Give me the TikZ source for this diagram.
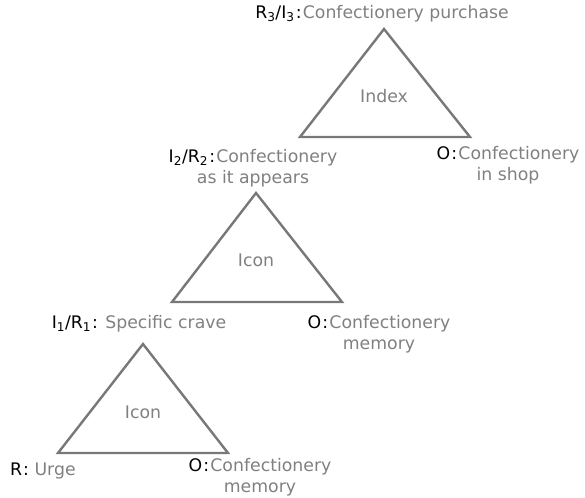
\documentclass[tikz,border=0pt]{standalone}
\usepackage{fontspec}
\setmainfont{DejaVu Sans}
\usepackage{xcolor}
\usetikzlibrary{calc}

\definecolor{labelgrey}{HTML}{808080}
\definecolor{linegrey}{HTML}{787878}

\newcommand{\sgn}[1]{\textcolor{black}{#1}}
\newcommand{\cln}{\kern1.2pt:\kern1.2pt}

\begin{document}
\begin{tikzpicture}[x=1pt, y=-1pt,
		triangle/.style = {draw = linegrey, line width = 2.4pt, line join = miter},
		sign label/.style = {text = labelgrey, font = \fontsize{17.3}{21.5}\selectfont, inner sep = 0pt, align = center}]
		\useasboundingbox (0,0) rectangle (585,497);
		
		% index triangle
		\coordinate (index top) at (384,29);
		\coordinate (index left) at (300,137);
		\coordinate (index right) at (470,137);
		\draw [triangle] (index top) -- (index left) -- (index right) -- cycle;
		\node [sign label] (index) at (384,96) {Index};
		
		% icon triangle, middle
		\coordinate (icon two top) at (256,193);
		\coordinate (icon two left) at (172,302);
		\coordinate (icon two right) at (342,302);
		\draw [triangle] (icon two top) -- (icon two left) -- (icon two right) -- cycle;
		\node [sign label] (icon two) at (256,260) {Icon};
		
		% icon triangle, bottom
		\coordinate (icon one top) at (143,344);
		\coordinate (icon one left) at (58,453);
		\coordinate (icon one right) at (228,453);
		\draw [triangle] (icon one top) -- (icon one left) -- (icon one right) -- cycle;
		\node [sign label] (icon one) at (143,412) {Icon};
		
		\node [sign label] (purchase) at (382,14) {\sgn{R\textsubscript{3}/I\textsubscript{3}\cln}Confectionery purchase};
		\node [sign label] (shop) at (508,165) {\sgn{O\cln}Confectionery\\in shop};
		\node [sign label] (appears) at (253,168) {\sgn{I\textsubscript{2}/R\textsubscript{2}\cln}Confectionery\\as it appears};
		\node [sign label] (memory two) at (379,334) {\sgn{O\cln}Confectionery\\memory};
		\node [sign label] (crave) at (139,324) {\sgn{I\textsubscript{1}/R\textsubscript{1}\kern1pt:} Specific crave};
		\node [sign label, anchor = west] (urge) at (10,471) {\sgn{R\kern1pt:} Urge};
		\node [sign label] (memory one) at (260,477) {\sgn{O\cln}Confectionery\\memory};
	\end{tikzpicture}
\end{document}
